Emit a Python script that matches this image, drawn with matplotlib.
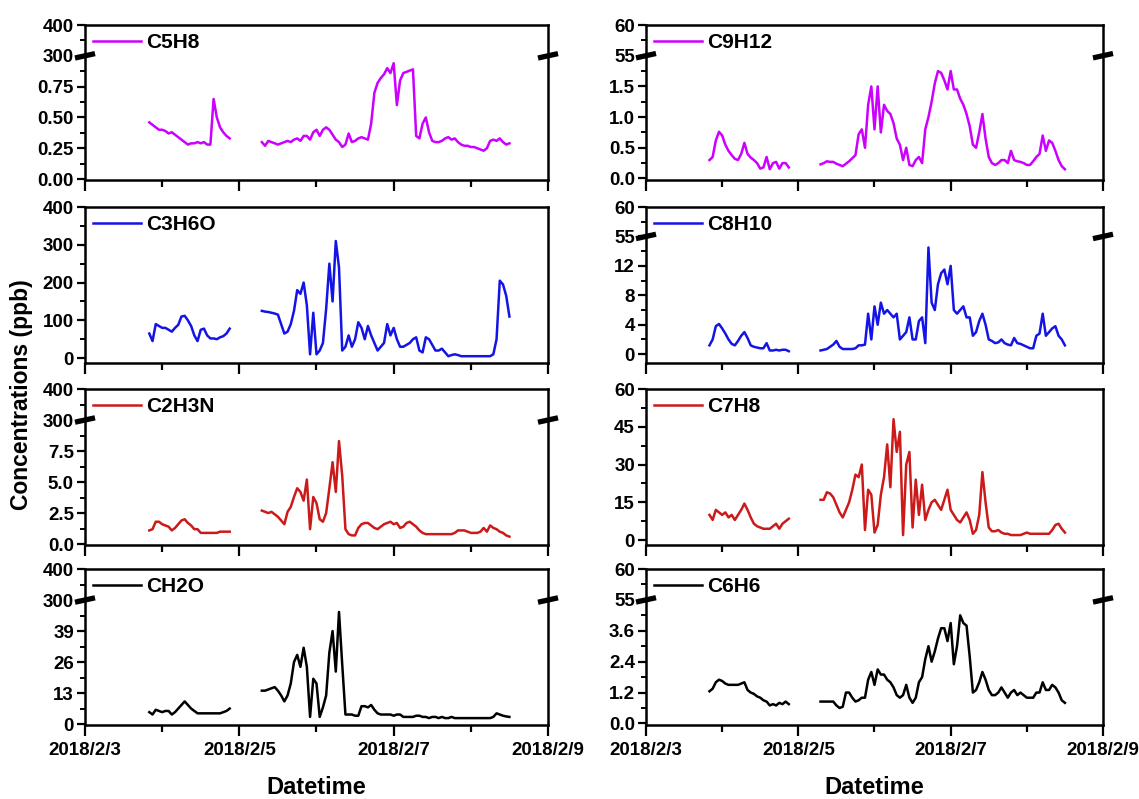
import numpy as np
import pandas as pd
import matplotlib
matplotlib.use('Agg')
import matplotlib.pyplot as plt

plt.rcParams['font.family'] = ['Liberation Sans', 'DejaVu Sans']
plt.rcParams['font.weight'] = 'bold'
plt.rcParams['xtick.labelsize'] = 13.5
plt.rcParams['ytick.labelsize'] = 13.5

# hourly time stamps of the two measurement periods
t1 = pd.date_range('2018-02-03 20:00', '2018-02-04 21:00', freq='h')
t2 = pd.date_range('2018-02-05 07:00', '2018-02-08 12:00', freq='h')

# ---- concentrations (ppb) ----
c5h8_1 = [0.46, 0.44, 0.42, 0.40, 0.40, 0.39, 0.37, 0.38, 0.36, 0.34, 0.32, 0.30, 0.28,
          0.29, 0.29, 0.30, 0.29, 0.30, 0.28, 0.28, 0.65, 0.50, 0.42, 0.38, 0.35, 0.33]
c5h8_2 = [0.30, 0.27, 0.31, 0.30, 0.29, 0.28, 0.29, 0.30, 0.31, 0.30,
          0.32, 0.33, 0.31, 0.35, 0.35, 0.32, 0.38, 0.40, 0.35, 0.40,
          0.42, 0.40, 0.36, 0.32, 0.30, 0.26, 0.28, 0.37, 0.30, 0.31,
          0.33, 0.34, 0.33, 0.32, 0.45, 0.70, 0.78, 0.82, 0.85, 0.90,
          0.86, 0.94, 0.60, 0.80, 0.86, 0.87, 0.88, 0.89, 0.35, 0.33,
          0.45, 0.50, 0.38, 0.31, 0.30, 0.30, 0.31, 0.33, 0.34, 0.32,
          0.33, 0.30, 0.28, 0.27, 0.27, 0.26, 0.26, 0.25, 0.24, 0.23,
          0.25, 0.31, 0.32, 0.31, 0.33, 0.30, 0.28, 0.29]

c3h6o_1 = [65, 45, 90, 85, 80, 80, 75, 70, 80, 88, 110, 112, 100,
           85, 60, 45, 75, 78, 60, 52, 52, 50, 55, 58, 65, 78]
c3h6o_2 = [125, 123, 122, 120, 118, 115, 90, 65, 70, 90,
           125, 180, 170, 200, 140, 10, 120, 10, 20, 40,
           130, 250, 150, 310, 240, 20, 30, 60, 30, 50,
           95, 80, 50, 85, 60, 40, 20, 30, 40, 90,
           60, 80, 50, 30, 30, 35, 40, 50, 55, 20,
           15, 55, 50, 35, 20, 20, 25, 15, 5, 8,
           10, 8, 5, 5, 5, 5, 5, 5, 5, 5,
           5, 5, 10, 50, 205, 195, 165, 110]

c2h3n_1 = [1.1, 1.2, 1.8, 1.8, 1.6, 1.5, 1.4, 1.1, 1.3, 1.6, 1.9, 2.0, 1.7,
           1.5, 1.2, 1.2, 0.9, 0.9, 0.9, 0.9, 0.9, 0.9, 1.0, 1.0, 1.0, 1.0]
c2h3n_2 = [2.7, 2.6, 2.5, 2.6, 2.4, 2.2, 1.9, 1.6, 2.6, 3.0,
           3.8, 4.5, 4.2, 3.5, 5.2, 1.2, 3.8, 3.3, 2.0, 1.8,
           2.5, 4.5, 6.6, 4.2, 8.3, 5.5, 1.2, 0.8, 0.7, 0.7,
           1.3, 1.6, 1.7, 1.7, 1.5, 1.3, 1.2, 1.4, 1.6, 1.7,
           1.8, 1.6, 1.7, 1.3, 1.4, 1.7, 1.8, 1.6, 1.4, 1.1,
           0.9, 0.8, 0.8, 0.8, 0.8, 0.8, 0.8, 0.8, 0.8, 0.8,
           0.9, 1.1, 1.1, 1.1, 1.0, 0.9, 0.9, 0.9, 1.0, 1.3,
           1.0, 1.5, 1.3, 1.2, 1.0, 0.9, 0.7, 0.6]

ch2o_1 = [5, 4, 6, 5.5, 5, 5.5, 5.5, 4, 5, 6.5, 8, 9.5, 8,
          6.5, 5.5, 4.5, 4.5, 4.5, 4.5, 4.5, 4.5, 4.5, 4.5, 5, 5.5, 6.5]
ch2o_2 = [14, 14, 14.5, 15, 15.5, 14, 12, 9.5, 12, 17,
          26, 29, 24, 32, 24, 3, 19, 17, 3, 7,
          12, 30, 39, 22, 47, 25, 4, 4, 4, 3.5,
          3.5, 7.5, 7.5, 7, 8, 6, 4.5, 4, 4, 4,
          4, 3.5, 4, 4, 3, 3, 3, 3, 3.5, 3.5,
          3, 3, 2.5, 3, 3, 2.5, 3, 2.5, 2.5, 3,
          2.5, 2.5, 2.5, 2.5, 2.5, 2.5, 2.5, 2.5, 2.5, 2.5,
          2.5, 2.5, 3, 4.5, 4, 3.5, 3.2, 3]

c9h12_1 = [0.30, 0.35, 0.62, 0.76, 0.70, 0.55, 0.45, 0.38, 0.32, 0.30, 0.40, 0.58, 0.40,
           0.34, 0.30, 0.25, 0.16, 0.18, 0.35, 0.15, 0.25, 0.27, 0.16, 0.25, 0.25, 0.18]
c9h12_2 = [0.23, 0.25, 0.28, 0.27, 0.27, 0.24, 0.22, 0.20, 0.24, 0.28,
           0.33, 0.38, 0.72, 0.80, 0.50, 1.20, 1.50, 0.80, 1.50, 0.75,
           1.20, 1.10, 1.05, 0.90, 0.65, 0.55, 0.30, 0.50, 0.22, 0.20,
           0.30, 0.35, 0.25, 0.80, 1.00, 1.25, 1.55, 1.75, 1.72, 1.60,
           1.45, 1.75, 1.45, 1.45, 1.30, 1.20, 1.05, 0.85, 0.55, 0.50,
           0.75, 1.05, 0.65, 0.35, 0.25, 0.22, 0.25, 0.30, 0.30, 0.25,
           0.45, 0.30, 0.28, 0.27, 0.25, 0.22, 0.22, 0.28, 0.35, 0.40,
           0.70, 0.45, 0.62, 0.58, 0.45, 0.30, 0.20, 0.15]

c8h10_1 = [1.2, 2.0, 3.8, 4.1, 3.5, 2.8, 2.0, 1.4, 1.2, 1.8, 2.5, 3.0, 2.2,
           1.2, 1.0, 0.9, 0.8, 0.8, 1.5, 0.5, 0.5, 0.6, 0.5, 0.6, 0.6, 0.4]
c8h10_2 = [0.5, 0.6, 0.7, 1.0, 1.3, 1.8, 1.0, 0.7, 0.7, 0.7,
           0.7, 0.8, 1.2, 1.2, 1.3, 5.5, 2.0, 6.5, 4.0, 7.0,
           5.5, 6.0, 5.5, 5.0, 5.5, 2.0, 2.5, 3.0, 5.0, 2.0,
           2.0, 4.5, 5.0, 1.5, 14.5, 7.0, 6.0, 9.5, 11.0, 11.5,
           9.5, 12.0, 6.0, 5.5, 6.0, 6.5, 5.0, 5.0, 2.5, 3.0,
           4.5, 5.5, 4.0, 2.0, 1.8, 1.5, 1.6, 2.0, 1.5, 1.3,
           1.2, 2.2, 1.5, 1.4, 1.2, 1.0, 0.8, 0.8, 2.5, 2.8,
           5.5, 2.5, 3.0, 3.5, 3.8, 2.5, 2.0, 1.2]

c7h8_1 = [10, 8, 12, 11, 10, 11, 9, 10, 8, 10, 12, 14.5, 12,
          9, 6.5, 5.5, 5, 4.5, 4.5, 4.5, 5.5, 6.5, 4.5, 6.5, 7.5, 8.5]
c7h8_2 = [16, 16, 19, 18.5, 17, 14, 11, 9, 12, 15,
          20, 26, 25, 30, 4, 20, 18, 3, 6, 18,
          25, 38, 21, 48, 35, 43, 2, 30, 35, 5,
          24, 10, 22, 8, 12, 15, 16, 14, 12, 16,
          20, 12, 10, 8, 7, 9, 11, 8, 2.5, 4,
          10, 27, 15, 5, 3.5, 3.5, 4, 3, 2.5, 2.5,
          2, 2, 2, 2, 2.5, 3, 2.5, 2.5, 2.5, 2.5,
          2.5, 2.5, 2.5, 4, 6, 6.5, 4.5, 3]

c6h6_1 = [1.25, 1.35, 1.6, 1.7, 1.65, 1.55, 1.5, 1.5, 1.5, 1.5, 1.55, 1.6, 1.3,
          1.2, 1.15, 1.05, 1.0, 0.9, 0.85, 0.7, 0.75, 0.7, 0.8, 0.75, 0.85, 0.75]
c6h6_2 = [0.85, 0.85, 0.85, 0.85, 0.85, 0.7, 0.6, 0.65, 1.2, 1.2,
          1.0, 0.85, 0.9, 1.0, 1.0, 1.7, 2.0, 1.5, 2.1, 1.9,
          1.9, 1.7, 1.6, 1.4, 1.1, 1.0, 1.1, 1.5, 1.0, 0.8,
          1.0, 1.6, 1.8, 2.5, 3.0, 2.4, 2.8, 3.3, 3.7, 3.7,
          3.2, 3.9, 2.3, 3.0, 4.2, 3.9, 3.8, 2.6, 1.2, 1.3,
          1.6, 2.0, 1.7, 1.3, 1.1, 1.1, 1.2, 1.4, 1.2, 1.0,
          1.2, 1.3, 1.1, 1.2, 1.1, 1.0, 1.0, 1.0, 1.2, 1.2,
          1.6, 1.3, 1.3, 1.5, 1.4, 1.2, 0.9, 0.8]

# ---- y tick values / labels, axis breaks (lower top, upper bottom, upper top) ----
c5h8_ticks = [0, 0.25, 0.5, 0.75, 300, 400]
c5h8_labels = ['0.00', '0.25', '0.50', '0.75', '300', '400']
c3h6o_ticks = [0, 100, 200, 300, 400]
c3h6o_labels = ['0', '100', '200', '300', '400']
c2h3n_ticks = [0, 2.5, 5, 7.5, 300, 400]
c2h3n_labels = ['0.0', '2.5', '5.0', '7.5', '300', '400']
ch2o_ticks = [0, 13, 26, 39, 300, 400]
ch2o_labels = ['0', '13', '26', '39', '300', '400']
c9h12_ticks = [0, 0.5, 1.0, 1.5, 55, 60]
c9h12_labels = ['0.0', '0.5', '1.0', '1.5', '55', '60']
c8h10_ticks = [0, 4, 8, 12, 55, 60]
c8h10_labels = ['0', '4', '8', '12', '55', '60']
c7h8_ticks = [0, 15, 30, 45, 60]
c7h8_labels = ['0', '15', '30', '45', '60']
c6h6_ticks = [0, 1.2, 2.4, 3.6, 55, 60]
c6h6_labels = ['0.0', '1.2', '2.4', '3.6', '55', '60']

date_ticks = ['2018-02-03', '2018-02-05', '2018-02-07', '2018-02-09']
date_labels = ['2018/2/3', '2018/2/5', '2018/2/7', '2018/2/9']
date_minor = ['2018-02-04', '2018-02-06', '2018-02-08']

MAGENTA, BLUE, RED, BLACK = '#cc00ff', '#1414e6', '#cc1a1a', '#000000'

panels = [
    dict(name='C5H8', a=c5h8_1, b=c5h8_2, color=MAGENTA, ticks=c5h8_ticks, labels=c5h8_labels, brk=(1.0, 300, 400), pad=0.03),
    dict(name='C3H6O', a=c3h6o_1, b=c3h6o_2, color=BLUE, ticks=c3h6o_ticks, labels=c3h6o_labels, brk=None, pad=0.13),
    dict(name='C2H3N', a=c2h3n_1, b=c2h3n_2, color=RED, ticks=c2h3n_ticks, labels=c2h3n_labels, brk=(10, 300, 400), pad=0.03),
    dict(name='CH2O', a=ch2o_1, b=ch2o_2, color=BLACK, ticks=ch2o_ticks, labels=ch2o_labels, brk=(52, 300, 400), pad=0.03),
    dict(name='C9H12', a=c9h12_1, b=c9h12_2, color=MAGENTA, ticks=c9h12_ticks, labels=c9h12_labels, brk=(2.0, 55, 60), pad=0.05),
    dict(name='C8H10', a=c8h10_1, b=c8h10_2, color=BLUE, ticks=c8h10_ticks, labels=c8h10_labels, brk=(16, 55, 60), pad=0.3),
    dict(name='C7H8', a=c7h8_1, b=c7h8_2, color=RED, ticks=c7h8_ticks, labels=c7h8_labels, brk=None, pad=0.13),
    dict(name='C6H6', a=c6h6_1, b=c6h6_2, color=BLACK, ticks=c6h6_ticks, labels=c6h6_labels, brk=(4.8, 55, 60), pad=0.05),
]


def broken(lo_top, hi_bot, hi_top):
    # lower part linear, upper part squeezed into one major step
    step = lo_top / 4.0
    k = step / (hi_top - hi_bot)

    def fwd(v):
        v = np.asarray(v, dtype=float)
        return np.where(v <= lo_top, v, np.where(v >= hi_bot, lo_top + (v - hi_bot) * k, lo_top))

    def inv(u):
        u = np.asarray(u, dtype=float)
        return np.where(u <= lo_top, u, hi_bot + (u - lo_top) / k)
    return fwd, inv


W, H = 1139, 799
cols = [(85, 548), (646, 1103)]
rows = [(25, 180), (207, 363), (389, 545), (569, 725)]

fig = plt.figure(figsize=(W / 100, H / 100), dpi=100)

for i, p in enumerate(panels):
    col, row = divmod(i, 4)
    x0, x1 = cols[col]
    y0, y1 = rows[row]
    ax = fig.add_axes([x0 / W, 1 - y1 / H, (x1 - x0) / W, (y1 - y0) / H])

    ax.plot(t1, p['a'], color=p['color'], lw=1.8, label=p['name'])
    ax.plot(t2, p['b'], color=p['color'], lw=1.8)

    ticks = p['ticks']
    step = ticks[1] - ticks[0]
    ymin = -p['pad'] * step
    if p['brk'] is not None:
        lo_top, hi_bot, hi_top = p['brk']
        fwd, inv = broken(lo_top, hi_bot, hi_top)
        ax.set_yscale('function', functions=(fwd, inv))
        ax.set_ylim(ymin, hi_top)
        minor = [step * (j + 0.5) for j in range(4)] + [(hi_bot + hi_top) / 2]
        # break marks on both side spines
        yb = (lo_top - ymin) / (lo_top + step - ymin)
        dx = 10 / (x1 - x0)
        dy = 2.2 / (y1 - y0)
        for xs in (0, 1):
            ax.plot([xs - dx, xs + dx], [yb - dy, yb + dy], transform=ax.transAxes,
                    color='k', lw=3.8, clip_on=False, solid_capstyle='butt', zorder=6)
    else:
        ax.set_ylim(ymin, ticks[-1])
        minor = [t + step / 2 for t in ticks[:-1]]
    ax.set_yticks(ticks, p['labels'])
    ax.set_yticks(minor, minor=True)

    ax.set_xlim(pd.Timestamp('2018-02-03'), pd.Timestamp('2018-02-09'))
    ax.set_xticks(pd.to_datetime(date_ticks), date_labels)
    ax.set_xticks(pd.to_datetime(date_minor), minor=True)
    ax.tick_params(axis='x', which='major', direction='out', length=8, width=1.6, pad=4,
                   labelbottom=(row == 3))
    ax.tick_params(axis='x', which='minor', direction='out', length=5, width=1.6)
    ax.tick_params(axis='y', which='major', direction='out', length=6, width=1.6, pad=2)
    ax.tick_params(axis='y', which='minor', direction='out', length=3.5, width=1.4)
    for s in ax.spines.values():
        s.set_linewidth(1.8)

    ax.legend(loc='upper left', frameon=False, fontsize=15, handlelength=2.3,
              handletextpad=0.25, borderaxespad=0.15, borderpad=0.25)

    if row == 3:
        fig.text(((x0 + x1) / 2) / W, 1 - 788 / H, 'Datetime', fontsize=17,
                 fontweight='bold', ha='center', va='center')

fig.text(22 / W, 1 - 395 / H, 'Concentrations (ppb)', fontsize=16.5, fontweight='bold',
         rotation=90, ha='center', va='center')

fig.savefig('out.png', dpi=100)
